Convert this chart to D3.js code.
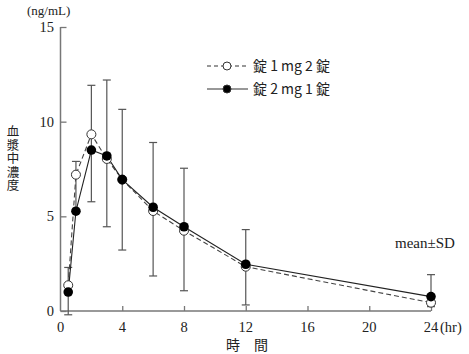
<!DOCTYPE html>
<html>
<head>
<meta charset="utf-8">
<script src="https://cdn.jsdelivr.net/npm/d3@7"></script>
<style>
  body { margin: 0; background: #fff; }
  text { font-family: "Liberation Serif", "DejaVu Serif", serif; fill: #222; }
  .jp { font-family: "Noto Sans CJK JP", sans-serif; }
</style>
</head>
<body>
<div id="chart"></div>
<script>
// time points (hr)
var hours = [0.5, 1, 2, 3, 4, 6, 8, 12, 24];
// 錠1mg2錠 (open circles, dashed)
var tab1mg = [1.36, 7.2, 9.33, 8.03, 6.94, 5.28, 4.24, 2.34, 0.44];
// 錠2mg1錠 (filled circles, solid)
var tab2mg = [1.0, 5.27, 8.5, 8.19, 6.94, 5.48, 4.45, 2.47, 0.76];
// SD bar ends
var sdHigh = [2.3, 7.9, 11.92, 12.2, 10.65, 8.9, 7.54, 4.3, 1.92];
var sdLow = [-0.2, 5.27, 5.77, 4.45, 3.22, 1.85, 1.07, 0.32, 0.23];
var xTicks = [0, 4, 8, 12, 16, 20, 24];
var yTicks = [0, 5, 10, 15];

var width = 469, height = 354;
var svg = d3.select("#chart").append("svg")
    .attr("width", width)
    .attr("height", height);

var x = d3.scaleLinear().domain([0, 24]).range([60.5, 431]);
var y = d3.scaleLinear().domain([0, 15]).range([311, 27]);

var axisColor = "#777";

// y axis
var yAxis = svg.append("g")
    .attr("transform", "translate(" + x(0) + ",0)")
    .call(d3.axisRight(y).tickValues(yTicks).tickSize(6).tickFormat(""));
yAxis.select(".domain").attr("stroke", axisColor).attr("stroke-width", 1.5)
    .attr("d", "M0," + y(0) + "V" + y(15));
yAxis.selectAll(".tick line").attr("stroke", axisColor).attr("stroke-width", 1.3);
svg.selectAll(".ylab").data(yTicks).enter().append("text")
    .attr("x", 54).attr("y", function (d) { return y(d) + 5; })
    .attr("text-anchor", "end").attr("font-size", 14.5)
    .text(function (d) { return d; });

// x axis
var xAxis = svg.append("g")
    .attr("transform", "translate(0," + y(0) + ")")
    .call(d3.axisTop(x).tickValues(xTicks).tickSize(5).tickFormat(""));
xAxis.select(".domain").attr("stroke", axisColor).attr("stroke-width", 1.5)
    .attr("d", "M" + x(0) + ",0H" + x(24));
xAxis.selectAll(".tick line").attr("stroke", axisColor).attr("stroke-width", 1.3);
xAxis.selectAll(".tick").filter(function (d) { return d === 0; }).remove();
svg.selectAll(".xlab").data(xTicks).enter().append("text")
    .attr("x", function (d) { return x(d); }).attr("y", 332)
    .attr("text-anchor", "middle").attr("font-size", 14.5)
    .text(function (d) { return d; });
svg.append("text").attr("x", x(24) + 9).attr("y", 332).attr("font-size", 14.5).text("(hr)");

// axis titles
svg.append("text").attr("x", 27).attr("y", 15).attr("font-size", 13).text("(ng/mL)");
svg.append("text").attr("class", "jp").attr("x", 247).attr("y", 350)
    .attr("text-anchor", "middle").attr("font-size", 14).text("時　間");
svg.append("text").attr("class", "jp")
    .attr("x", 13).attr("y", 125)
    .attr("writing-mode", "vertical-rl")
    .attr("font-size", 12.5).attr("letter-spacing", 1)
    .text("血漿中濃度");

// error bars
var rows = hours.map(function (h, i) {
  return {t: h, hi: sdHigh[i], lo: sdLow[i], a: tab1mg[i], b: tab2mg[i]};
});
var eb = svg.append("g").attr("stroke", "#555").attr("stroke-width", 1.2);
eb.selectAll(".bar").data(rows).enter().append("line")
    .attr("x1", function (d) { return x(d.t); }).attr("x2", function (d) { return x(d.t); })
    .attr("y1", function (d) { return y(d.hi); }).attr("y2", function (d) { return y(d.lo); });
eb.selectAll(".capHi").data(rows).enter().append("line")
    .attr("x1", function (d) { return x(d.t) - 4; }).attr("x2", function (d) { return x(d.t) + 4; })
    .attr("y1", function (d) { return y(d.hi); }).attr("y2", function (d) { return y(d.hi); });
eb.selectAll(".capLo").data(rows.filter(function (d) { return d.lo < d.b; })).enter().append("line")
    .attr("x1", function (d) { return x(d.t) - 4; }).attr("x2", function (d) { return x(d.t) + 4; })
    .attr("y1", function (d) { return y(d.lo); }).attr("y2", function (d) { return y(d.lo); });

// lines
var lineA = d3.line().x(function (d) { return x(d.t); }).y(function (d) { return y(d.a); });
var lineB = d3.line().x(function (d) { return x(d.t); }).y(function (d) { return y(d.b); });
svg.append("path").datum(rows).attr("d", lineA)
    .attr("fill", "none").attr("stroke", "#444").attr("stroke-width", 1.1).attr("stroke-dasharray", "5,3");
svg.append("path").datum(rows).attr("d", lineB)
    .attr("fill", "none").attr("stroke", "#222").attr("stroke-width", 1.1);

// markers
svg.selectAll(".ptA").data(rows).enter().append("circle")
    .attr("cx", function (d) { return x(d.t); }).attr("cy", function (d) { return y(d.a); })
    .attr("r", 4.5).attr("fill", "#fff").attr("stroke", "#333").attr("stroke-width", 1);
svg.selectAll(".ptB").data(rows).enter().append("circle")
    .attr("cx", function (d) { return x(d.t); }).attr("cy", function (d) { return y(d.b); })
    .attr("r", 4.8).attr("fill", "#000");

// legend
var legend = [
  {label: "錠 1 mg 2 錠", dash: "4,3", fill: "#fff", y: 66},
  {label: "錠 2 mg 1 錠", dash: null, fill: "#000", y: 89}
];
var lg = svg.selectAll(".lg").data(legend).enter().append("g");
lg.append("line").attr("x1", 207).attr("x2", 248)
    .attr("y1", function (d) { return d.y; }).attr("y2", function (d) { return d.y; })
    .attr("stroke", "#333").attr("stroke-width", 1.1)
    .attr("stroke-dasharray", function (d) { return d.dash; });
lg.append("circle").attr("cx", 227).attr("cy", function (d) { return d.y; })
    .attr("r", 4).attr("fill", function (d) { return d.fill; })
    .attr("stroke", "#333").attr("stroke-width", 1);
lg.append("text").attr("class", "jp").attr("x", 253).attr("y", function (d) { return d.y + 5; })
    .attr("font-size", 14).text(function (d) { return d.label; });

svg.append("text").attr("x", 395).attr("y", 248).attr("font-size", 15).text("mean±SD");
</script>
</body>
</html>
